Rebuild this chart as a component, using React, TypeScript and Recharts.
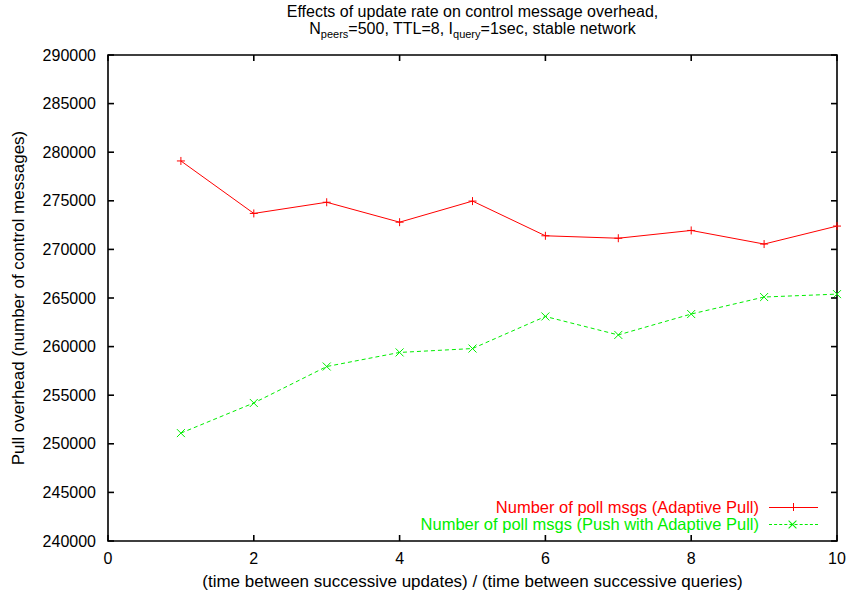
import { Legend, Line, LineChart, ReferenceArea, XAxis, YAxis } from 'recharts'

const ratios = [1, 2, 3, 4, 5, 6, 7, 8, 9, 10]
const adaptivePull = [279100, 273700, 274850, 272800, 274970, 271400, 271150, 271950, 270550, 272400]
const pushAdaptivePull = [251100, 254200, 257950, 259400, 259800, 263100, 261200, 263350, 265100, 265400]

const xTicks = [0, 2, 4, 6, 8, 10]
const yTicks = [240000, 245000, 250000, 255000, 260000, 265000, 270000, 275000, 280000, 285000, 290000]

const seriesNames = {
  pull: 'Number of poll msgs (Adaptive Pull)',
  push: 'Number of poll msgs (Push with Adaptive Pull)',
}

const data = ratios.map((r, i) => ({ r, pull: adaptivePull[i], push: pushAdaptivePull[i] }))

const WIDTH = 848
const HEIGHT = 597
const MARGIN = { top: 55, right: 11, bottom: 0, left: 0 }
const Y_AXIS_WIDTH = 108
const X_AXIS_HEIGHT = 56
const PLOT_LEFT = MARGIN.left + Y_AXIS_WIDTH
const PLOT_RIGHT = WIDTH - MARGIN.right
const PLOT_TOP = MARGIN.top
const PLOT_BOTTOM = HEIGHT - MARGIN.bottom - X_AXIS_HEIGHT
const TICK_LEN = 6
const BORDER_W = 1.6

const FONT = '"Liberation Sans", Arial, Helvetica, sans-serif'
const RED = '#ff0000'
const GREEN = '#00ee00'
const TEXT_SIZE = 17

function PlusDot(props: any) {
  const { cx, cy } = props
  if (cx == null || cy == null) return null
  return <path d={`M${cx - 4},${cy}h8M${cx},${cy - 4}v8`} stroke={RED} strokeWidth={1} fill="none" />
}

function CrossDot(props: any) {
  const { cx, cy } = props
  if (cx == null || cy == null) return null
  return <path d={`M${cx - 4},${cy - 4}l8,8M${cx - 4},${cy + 4}l8,-8`} stroke={GREEN} strokeWidth={1} fill="none" />
}

// tick label outside, tick marks inward on both opposite borders (gnuplot mirror ticks)
function XTick(props: any) {
  const { x, y, payload } = props
  return (
    <g>
      <text x={x} y={y} dy="0.71em" textAnchor="middle" fontSize={16} fontFamily={FONT} fill="#000">
        {payload.value}
      </text>
      <line x1={x} x2={x} y1={PLOT_BOTTOM} y2={PLOT_BOTTOM - TICK_LEN} stroke="#000" strokeWidth={BORDER_W} />
      <line x1={x} x2={x} y1={PLOT_TOP} y2={PLOT_TOP + TICK_LEN} stroke="#000" strokeWidth={BORDER_W} />
    </g>
  )
}

function YTick(props: any) {
  const { x, y, payload } = props
  return (
    <g>
      <text x={x} y={y} dy="0.355em" textAnchor="end" fontSize={16} fontFamily={FONT} fill="#000">
        {payload.value}
      </text>
      <line x1={PLOT_LEFT} x2={PLOT_LEFT + TICK_LEN} y1={y} y2={y} stroke="#000" strokeWidth={BORDER_W} />
      <line x1={PLOT_RIGHT} x2={PLOT_RIGHT - TICK_LEN} y1={y} y2={y} stroke="#000" strokeWidth={BORDER_W} />
    </g>
  )
}

// legend sample drawn with plain css boxes
function Sample({ color, dashed, mark }: { color: string; dashed: boolean; mark: 'plus' | 'cross' }) {
  const stroke = `1px ${dashed ? 'dashed' : 'solid'} ${color}`
  const seg = { position: 'absolute' as const, borderTop: `1px solid ${color}` }
  return (
    <div style={{ position: 'relative', width: 60, height: 17, flex: 'none' }}>
      <div style={{ position: 'absolute', left: 10, width: 49, top: 8, borderTop: stroke }} />
      {mark === 'plus' ? (
        <>
          <div style={{ ...seg, left: 30, top: 8, width: 8 }} />
          <div style={{ position: 'absolute', left: 34, top: 4, height: 8, borderLeft: `1px solid ${color}` }} />
        </>
      ) : (
        <>
          <div style={{ ...seg, left: 28, top: 8, width: 11, transform: 'rotate(45deg)' }} />
          <div style={{ ...seg, left: 28, top: 8, width: 11, transform: 'rotate(-45deg)' }} />
        </>
      )}
    </div>
  )
}

function GnuLegend() {
  return (
    <div style={{ fontFamily: FONT, fontSize: 16.5, lineHeight: '17px' }}>
      <div style={{ display: 'flex', alignItems: 'center', justifyContent: 'flex-end', height: 17 }}>
        <span style={{ color: RED, whiteSpace: 'nowrap' }}>{seriesNames.pull}</span>
        <Sample color={RED} dashed={false} mark="plus" />
      </div>
      <div style={{ display: 'flex', alignItems: 'center', justifyContent: 'flex-end', height: 17 }}>
        <span style={{ color: GREEN, whiteSpace: 'nowrap' }}>{seriesNames.push}</span>
        <Sample color={GREEN} dashed mark="cross" />
      </div>
    </div>
  )
}

export default function App() {
  const subStyle = { fontSize: 11, verticalAlign: '-4px', lineHeight: 0 }
  const titleLine = { height: 17, lineHeight: '17px', whiteSpace: 'nowrap' as const }
  return (
    <div style={{ width: WIDTH }}>
      <style>{'body{margin:0}'}</style>
      <div style={{ position: 'relative', width: WIDTH, height: HEIGHT, background: '#fff', fontFamily: FONT }}>
        <div
          style={{
            position: 'absolute',
            left: PLOT_LEFT,
            width: PLOT_RIGHT - PLOT_LEFT,
            top: 3,
            textAlign: 'center',
            fontSize: 16,
            zIndex: 2,
          }}
        >
          <div style={titleLine}>Effects of update rate on control message overhead,</div>
          <div style={titleLine}>
            N<sub style={subStyle}>peers</sub>=500, TTL=8, I<sub style={subStyle}>query</sub>=1sec, stable network
          </div>
        </div>
        <LineChart width={WIDTH} height={HEIGHT} data={data} margin={MARGIN}>
          <XAxis
            dataKey="r"
            type="number"
            domain={[0, 10]}
            ticks={xTicks}
            tickLine={false}
            axisLine={false}
            tickSize={0}
            tickMargin={12}
            height={X_AXIS_HEIGHT}
            tick={<XTick />}
            label={{
              value: '(time between successive updates) / (time between successive queries)',
              position: 'insideBottom',
              offset: 10,
              style: { fill: '#000', fontSize: TEXT_SIZE, fontFamily: FONT },
            }}
          />
          <YAxis
            type="number"
            domain={[240000, 290000]}
            ticks={yTicks}
            tickLine={false}
            axisLine={false}
            tickSize={0}
            tickMargin={12}
            width={Y_AXIS_WIDTH}
            tick={<YTick />}
            label={(p: any) => {
              const vb = p.viewBox || {}
              const x = (vb.x ?? 0) + 24
              const y = (vb.y ?? 0) + (vb.height ?? 0) / 2
              return (
                <text x={x} y={y} transform={`rotate(-90 ${x} ${y})`} textAnchor="middle" fontSize={TEXT_SIZE} fontFamily={FONT} fill="#000">
                  Pull overhead (number of control messages)
                </text>
              )
            }}
          />
          {/* plot border */}
          <ReferenceArea x1={0} x2={10} y1={240000} y2={290000} fill="none" fillOpacity={0} stroke="#000" strokeWidth={BORDER_W} strokeOpacity={1} />
          <Legend
            layout="horizontal"
            verticalAlign="middle"
            align="center"
            content={<GnuLegend />}
            wrapperStyle={{ top: 499, right: 29, left: 'auto', width: 'auto' }}
          />
          <Line
            dataKey="pull"
            name={seriesNames.pull}
            stroke={RED}
            strokeWidth={1}
            dot={<PlusDot />}
            activeDot={false}
            isAnimationActive={false}
          />
          <Line
            dataKey="push"
            name={seriesNames.push}
            stroke={GREEN}
            strokeWidth={1}
            strokeDasharray="4 3"
            dot={<CrossDot />}
            activeDot={false}
            isAnimationActive={false}
          />
        </LineChart>
      </div>
    </div>
  )
}
